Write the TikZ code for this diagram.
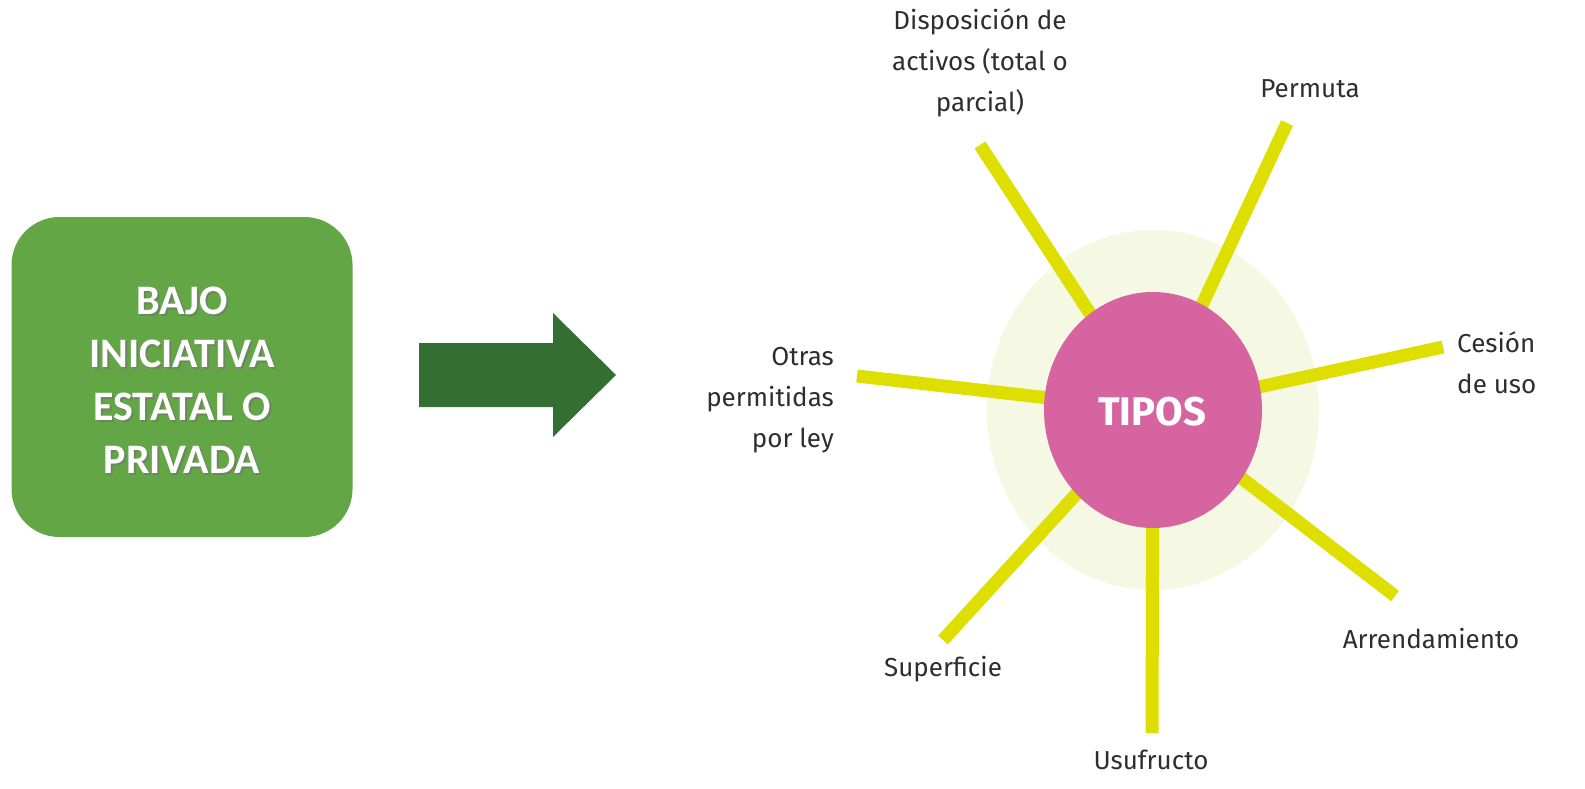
\documentclass[tikz,border=0pt]{standalone}
\usepackage{fontspec}
\setmainfont{Fira Sans}
\newfontfamily\boxfont{Carlito}
\usepackage{xcolor}
\usetikzlibrary{positioning, calc, shapes.geometric}

\definecolor{boxgreen}{RGB}{99,166,69}
\definecolor{arrowgreen}{RGB}{51,110,51}
\definecolor{tipospink}{RGB}{213,100,160}
\definecolor{halo}{RGB}{245,248,227}
\definecolor{spokeyellow}{RGB}{222,222,0}

\begin{document}
\begin{tikzpicture}[x=1pt, y=-1pt,
    spoke/.style={spokeyellow, line width=13pt},
    lbl/.style={font=\fontsize{26}{41}\selectfont, text=black!82, inner sep=0pt}]
    \useasboundingbox (0,0) rectangle (1585,789);
    % left box and arrow
    \node[fill=boxgreen, rounded corners=48pt, minimum width=341pt, minimum height=320pt] (origen) at (182,377) {};
    \node[text=black!55, opacity=0.6, align=center, font=\boxfont\bfseries\fontsize{42}{53}\selectfont] at (184,382) {BAJO\\INICIATIVA\\ESTATAL O\\PRIVADA};
    \node[text=white, align=center, font=\boxfont\bfseries\fontsize{42}{53}\selectfont] (origentxt) at (182,380) {BAJO\\INICIATIVA\\ESTATAL O\\PRIVADA};
    \fill[arrowgreen] (419,343) -- (553,343) -- (553,313) -- (616,375)
        -- (553,437) -- (553,407) -- (419,407) -- cycle;
    % halo, spokes and centre
    \coordinate (c) at (1153,410);
    \fill[halo] (c) ellipse [x radius=166pt, y radius=180pt];
    \coordinate (dispo) at (980,145);
    \coordinate (perm) at (1287,123);
    \coordinate (cesion) at (1443,347);
    \coordinate (arrend) at (1395,596);
    \coordinate (usuf) at (1152,733);
    \coordinate (superf) at (943,640);
    \coordinate (otras) at (857,376);
    \foreach \e in {dispo, perm, cesion, arrend, usuf, superf, otras}
        \draw[spoke] (c) -- (\e);
    \node[ellipse, fill=tipospink, minimum width=218pt, minimum height=236pt] (tipos) at (c) {};
    \node[text=white, font=\bfseries\fontsize{40}{44}\selectfont] (tipostxt) at (1152,412) {TIPOS};
    % labels
    \node[lbl, align=center] (l-dispo) at (980,63) {Disposición de\\activos (total o\\parcial)};
    \node[lbl] (l-perm) at (1310,89) {Permuta};
    \node[lbl, align=left, anchor=west] (l-cesion) at (1457,363) {Cesión\\de uso};
    \node[lbl] (l-arrend) at (1431,639) {Arrendamiento};
    \node[lbl] (l-usuf) at (1151,760) {Usufructo};
    \node[lbl] (l-superf) at (943,669) {Superficie};
    \node[lbl, align=right, anchor=east] (l-otras) at (834,400) {Otras\\permitidas\\por ley};
\end{tikzpicture}
\end{document}
